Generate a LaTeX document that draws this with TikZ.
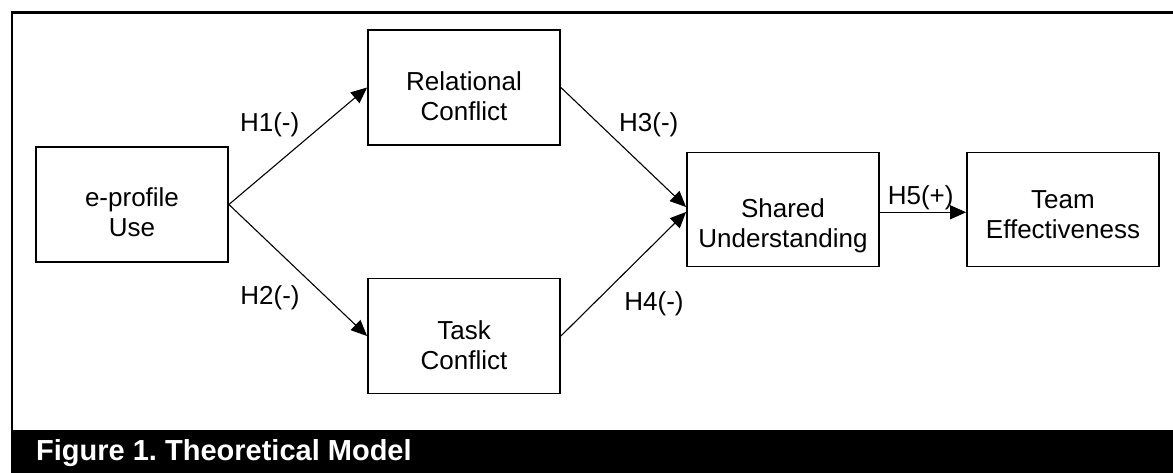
\documentclass[tikz,border=0pt]{standalone}
\usepackage{fontspec}
\setmainfont{Liberation Sans}
\usetikzlibrary{arrows.meta,calc}
\frenchspacing
\tikzset{
  box/.style={draw, line width=1.8pt, minimum width=192pt, minimum height=115pt, inner sep=0pt},
  boxtext/.style={font=\fontsize{26}{30}\selectfont, align=center, inner sep=0pt},
  hlabel/.style={font=\fontsize{26}{30}\selectfont, anchor=base, inner sep=0pt},
  link/.style={line width=1.1pt, -{Triangle[length=16pt,width=14pt]}},
  captext/.style={anchor=base west, text=white, font=\bfseries\fontsize{29}{33}\selectfont, inner sep=0pt},
}
\newcommand{\twolines}[2]{\strut #1\\\strut #2}
\begin{document}
\begin{tikzpicture}[x=1pt,y=-1pt]
\useasboundingbox (0,0) rectangle (1173,473);
\begin{scope}
  \clip (0,0) rectangle (1173,473);
  \fill[black] (11,430) rectangle (1200,500);
  \draw[line width=2.5pt] (12,12.5) rectangle (1200,520);
\end{scope}
\node[captext] (cap) at (36,460) {Figure 1. Theoretical Model};

\node[box] (ep) at (132,204.5) {};
\node[box] (rc) at (464,87.5) {};
\node[box] (tc) at (464,336) {};
\node[box, minimum height=114pt] (su) at (783,209.5) {};
\node[box, minimum height=114pt] (te) at (1063,209.5) {};

\node[boxtext] (ept) at ($(ep.center)+(0,11)$) {\twolines{e-profile}{Use}};
\node[boxtext] (rct) at ($(rc.center)+(0,12.5)$) {\twolines{Relational}{Conflict}};
\node[boxtext] (tct) at ($(tc.center)+(0,12.3)$) {\twolines{Task}{Conflict}};
\node[boxtext] (sut) at ($(su.center)+(0,17)$) {\twolines{Shared}{Understanding}};
\node[boxtext] (tet) at ($(te.center)+(0,8)$) {\twolines{Team}{Effectiveness}};

\draw[link] (ep.east) -- (rc.west);
\draw[link] (ep.east) -- (tc.west);
\draw[link] (rc.east) -- ($(su.west)+(0,-2.5)$);
\draw[link] (tc.east) -- ($(su.west)+(0,2.5)$);
\draw[link] ($(su.east)+(0,2.8)$) -- ($(te.west)+(0,2.8)$);

\node[hlabel] (h1) at (269.7,131.7) {H1(-)};
\node[hlabel] (h2) at (270,305) {H2(-)};
\node[hlabel] (h3) at (648.8,131.7) {H3(-)};
\node[hlabel] (h4) at (654,310.7) {H4(-)};
\node[hlabel] (h5) at (920.7,205) {H5(+)};
\end{tikzpicture}
\end{document}
